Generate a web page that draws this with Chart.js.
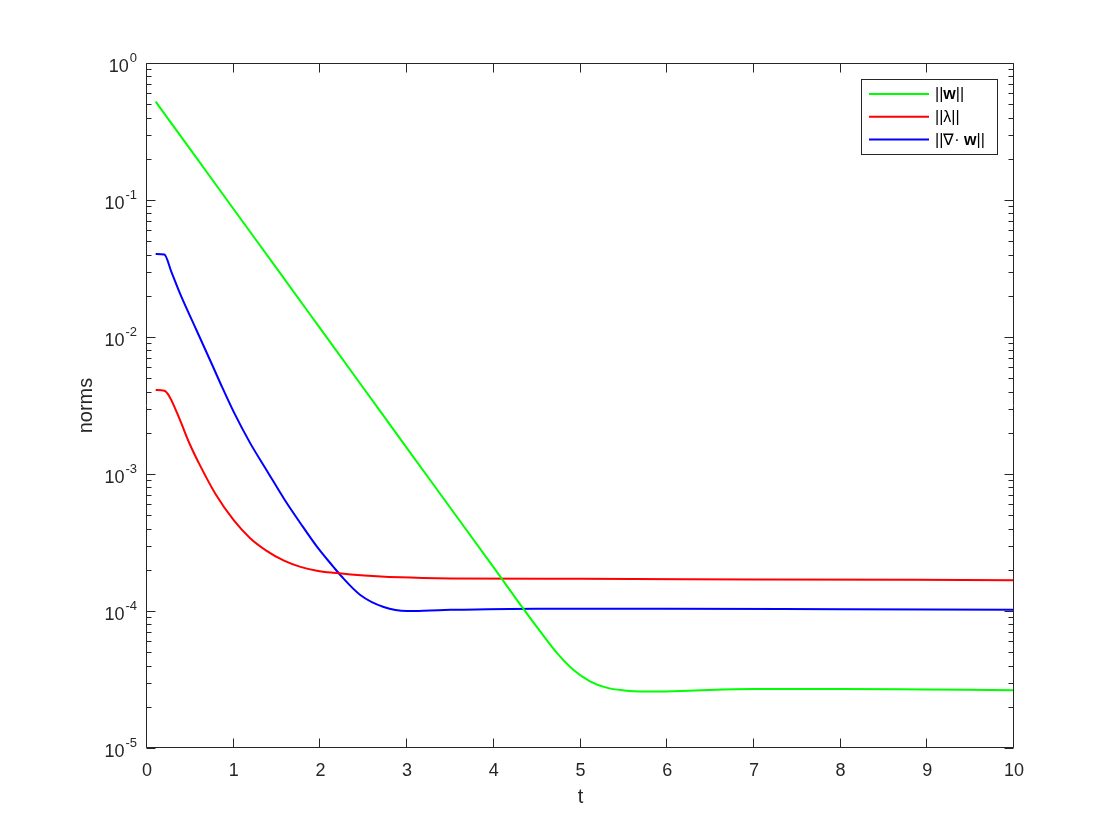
<!DOCTYPE html>
<html>
<head>
<meta charset="utf-8">
<script src="https://cdn.jsdelivr.net/npm/chart.js@4/dist/chart.umd.min.js"></script>
<style>
html, body { margin: 0; background: #fff; }
#wrap { width: 1120px; height: 840px; }
</style>
</head>
<body>
<div id="wrap"><canvas id="c" width="1120" height="840"></canvas></div>
<script>
// ||w|| (green)
const tW = [0.1, 0.5, 1.0, 1.5, 2.0, 2.5, 3.0, 3.5, 4.0, 4.34, 4.54, 4.73, 4.92, 5.11, 5.3, 5.5, 5.69, 6.07, 6.4, 7, 8, 9, 10];
const wNorm = [0.522, 0.234, 0.0856, 0.0314, 0.0115, 4.21e-3, 1.54e-3, 5.65e-4, 2.07e-4, 1.04e-4, 7.03e-5, 4.93e-5, 3.71e-5, 3.07e-5, 2.76e-5, 2.63e-5, 2.58e-5, 2.60e-5, 2.64e-5, 2.69e-5, 2.70e-5, 2.67e-5, 2.64e-5];

// ||lambda|| (red)
const tLam = [0.1, 0.2, 0.26, 0.38, 0.49, 0.61, 0.79, 1.0, 1.19, 1.38, 1.58, 1.77, 1.96, 2.15, 2.35, 2.92, 3.5, 5, 7, 10];
const lamNorm = [4.10e-3, 4.05e-3, 3.67e-3, 2.48e-3, 1.67e-3, 1.16e-3, 7.14e-4, 4.6e-4, 3.4e-4, 2.75e-4, 2.33e-4, 2.1e-4, 1.97e-4, 1.90e-4, 1.85e-4, 1.76e-4, 1.73e-4, 1.72e-4, 1.70e-4, 1.68e-4];

// ||div w|| (blue)
const tDiv = [0.1, 0.2, 0.28, 0.38, 0.57, 0.75, 0.85, 1.0, 1.19, 1.39, 1.58, 1.77, 1.96, 2.15, 2.24, 2.46, 2.73, 3.0, 3.27, 3.5, 4.5, 6, 8, 10];
const divNorm = [0.0404, 0.0400, 0.0300, 0.0208, 0.01125, 6.3e-3, 4.54e-3, 2.84e-3, 1.68e-3, 1.04e-3, 6.6e-4, 4.37e-4, 2.95e-4, 2.10e-4, 1.80e-4, 1.31e-4, 1.07e-4, 1.00e-4, 1.01e-4, 1.02e-4, 1.04e-4, 1.04e-4, 1.03e-4, 1.02e-4];

const seriesLabels = ['||w||', '||\u03bb||', '||\u2207\u00b7 w||'];
const yTickExps = [0, -1, -2, -3, -4, -5];

const FONT = '"Liberation Sans", Arial, Helvetica, sans-serif';
const INK = '#262626';

function pts(ts, vs) { return ts.map((t, i) => ({ x: t, y: vs[i] })); }

// box, inward ticks and 10^n labels, matlab style
const axesBox = {
    id: 'axesBox',
    afterDatasetsDraw(chart) {
        const { ctx, chartArea: a, scales: { x, y } } = chart;
        ctx.save();
        ctx.strokeStyle = INK;
        ctx.lineWidth = 1;
        const L = Math.round(a.left) - 0.5, R = Math.round(a.right) - 0.5;
        const T = Math.round(a.top) + 0.5, B = Math.round(a.bottom) - 0.5;
        ctx.beginPath();
        ctx.rect(L, T, R - L, B - T);
        x.ticks.forEach(tk => {
            const px = Math.round(x.getPixelForValue(tk.value)) - 0.5;
            ctx.moveTo(px, B); ctx.lineTo(px, B - 9);
            ctx.moveTo(px, T); ctx.lineTo(px, T + 9);
        });
        yTickExps.forEach(e => {
            for (let m = 1; m < 10; m++) {
                const v = m * Math.pow(10, e);
                if (v > 1.000001) break;
                const py = Math.round(y.getPixelForValue(v)) + 0.5;
                const len = m === 1 ? 9 : 5;
                ctx.moveTo(L, py); ctx.lineTo(L + len, py);
                ctx.moveTo(R, py); ctx.lineTo(R - len, py);
            }
        });
        ctx.stroke();

        ctx.fillStyle = INK;
        ctx.textAlign = 'right';
        ctx.textBaseline = 'middle';
        yTickExps.forEach(e => {
            const py = y.getPixelForValue(Math.pow(10, e));
            const ex = String(e);
            ctx.font = '13px ' + FONT;
            const ew = ctx.measureText(ex).width;
            ctx.fillText(ex, a.left - 10, py - 5);
            ctx.font = '18px ' + FONT;
            ctx.fillText('10', a.left - 11 - ew, py + 4);
        });
        ctx.restore();
    }
};

const boxLegend = {
    id: 'boxLegend',
    afterDraw(chart) {
        const ctx = chart.ctx;
        ctx.save();
        ctx.fillStyle = '#fff';
        ctx.fillRect(861, 79, 137, 76);
        ctx.strokeStyle = INK;
        ctx.lineWidth = 1;
        ctx.strokeRect(861.5, 79.5, 136, 75);
        chart.data.datasets.forEach((ds, i) => {
            const yy = 94 + i * 22.7;
            ctx.strokeStyle = ds.borderColor;
            ctx.lineWidth = 2;
            ctx.beginPath(); ctx.moveTo(869, yy); ctx.lineTo(929, yy); ctx.stroke();
            let xx = 935;
            ctx.fillStyle = '#000';
            ctx.textAlign = 'left';
            ctx.textBaseline = 'middle';
            for (const ch of ds.label) {
                ctx.font = (ch === 'w' ? 'bold ' : '') + '16px ' + FONT;
                ctx.fillText(ch, xx, yy + 1);
                xx += ctx.measureText(ch).width;
            }
        });
        ctx.restore();
    }
};

Chart.defaults.color = INK;
Chart.defaults.font.family = FONT;

new Chart(document.getElementById('c').getContext('2d'), {
    type: 'line',
    data: {
        datasets: [
            { label: seriesLabels[0], data: pts(tW, wNorm), borderColor: '#00ff00' },
            { label: seriesLabels[1], data: pts(tLam, lamNorm), borderColor: '#ff0000' },
            { label: seriesLabels[2], data: pts(tDiv, divNorm), borderColor: '#0000ff' }
        ]
    },
    options: {
        responsive: false,
        animation: false,
        devicePixelRatio: 1,
        layout: { padding: { left: 0, top: 63, right: 106, bottom: 0 } },
        elements: {
            line: { borderWidth: 2, fill: false, cubicInterpolationMode: 'monotone' },
            point: { radius: 0, hoverRadius: 0 }
        },
        plugins: { legend: { display: false }, tooltip: { enabled: false } },
        scales: {
            x: {
                type: 'linear', min: 0, max: 10,
                grid: { display: false, drawTicks: false, tickLength: 0 },
                border: { display: false },
                ticks: { stepSize: 1, padding: 12, font: { size: 18 }, color: INK, maxRotation: 0 },
                title: { display: true, text: 't', font: { size: 20 }, color: INK, padding: { top: 0, bottom: 31 } },
                afterFit(s) { s.height = 92; }
            },
            y: {
                type: 'logarithmic', min: 1e-5, max: 1,
                grid: { display: false, drawTicks: false, tickLength: 0 },
                border: { display: false },
                ticks: { display: false },
                title: { display: true, text: 'norms', font: { size: 20 }, color: INK, padding: { top: 74, bottom: 0 } },
                afterFit(s) { s.width = 147; }
            }
        }
    },
    plugins: [axesBox, boxLegend]
});
</script>
</body>
</html>
